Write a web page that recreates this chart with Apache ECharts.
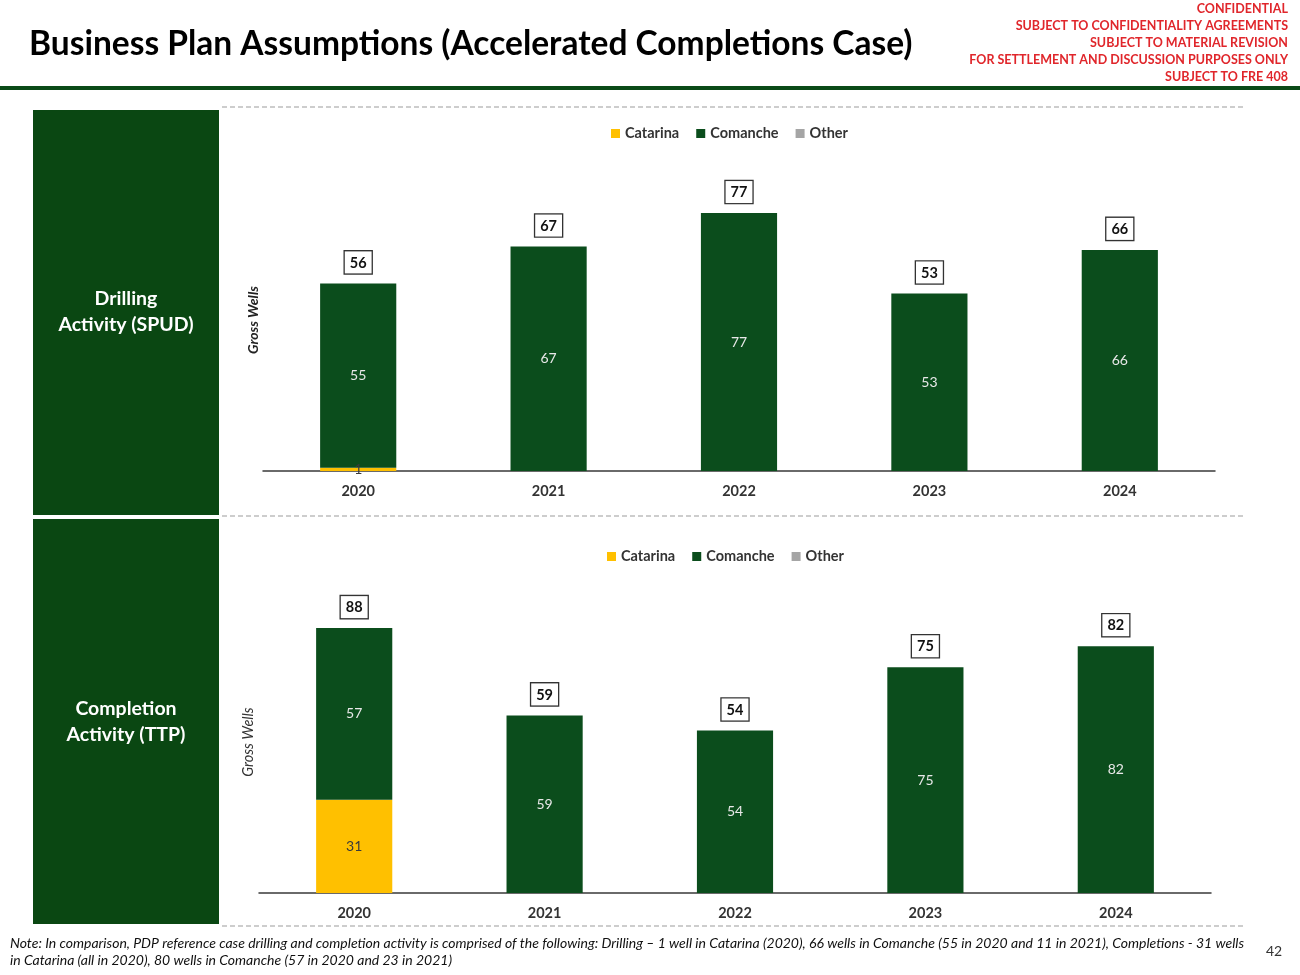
<!DOCTYPE html>
<html>
<head>
<meta charset="utf-8">
<script src="https://cdn.jsdelivr.net/npm/echarts@6/dist/echarts.min.js"></script>
<style>
html,body{margin:0;padding:0;background:#fff;}
#main{width:1300px;height:975px;}
</style>
</head>
<body>
<div id="main"></div>
<script>
// ---- data ----
var years = ['2020', '2021', '2022', '2023', '2024'];
var seriesNames = ['Catarina', 'Comanche', 'Other'];
var spudCatarina = [1, 0, 0, 0, 0];
var spudComanche = [55, 67, 77, 53, 66];
var spudOther = [0, 0, 0, 0, 0];
var ttpCatarina = [31, 0, 0, 0, 0];
var ttpComanche = [57, 59, 54, 75, 82];
var ttpOther = [0, 0, 0, 0, 0];

var title = 'Business Plan Assumptions (Accelerated Completions Case)';
var confidentialLines = ['CONFIDENTIAL', 'SUBJECT TO CONFIDENTIALITY AGREEMENTS', 'SUBJECT TO MATERIAL REVISION', 'FOR SETTLEMENT AND DISCUSSION PURPOSES ONLY', 'SUBJECT TO FRE 408'];
var panelLabels = ['Drilling\nActivity (SPUD)', 'Completion\nActivity (TTP)'];
var noteLines = ['Note: In comparison, PDP reference case drilling and completion activity is comprised of the following: Drilling \u2013 1 well in Catarina (2020), 66 wells in Comanche (55 in 2020 and 11 in 2021), Completions - 31 wells', 'in Catarina (all in 2020), 80 wells in Comanche (57 in 2020 and 23 in 2021)'];
var pageNumber = '42';

function sumArrays(a, b, c) { return a.map(function (v, i) { return v + b[i] + c[i]; }); }
var spudTotal = sumArrays(spudCatarina, spudComanche, spudOther);
var ttpTotal = sumArrays(ttpCatarina, ttpComanche, ttpOther);

var FONT = 'Lato';
var GREEN = '#0b4d1c';
var PANEL = '#0a4712';
var YELLOW = '#ffc000';
var GRAY = '#a5a5a5';

function hideZero(p) { return p.value ? String(p.value) : ''; }

function makeSeries(idx, cat, com, oth, tot) {
  return [
    { name: 'Catarina', type: 'bar', stack: 's' + idx, xAxisIndex: idx, yAxisIndex: idx, data: cat, barWidth: '40%', barGap: '-100%',
      itemStyle: { color: YELLOW },
      label: { show: true, position: 'inside', formatter: hideZero, color: '#3a3a3a', fontFamily: FONT, fontSize: 14 } },
    { name: 'Comanche', type: 'bar', stack: 's' + idx, xAxisIndex: idx, yAxisIndex: idx, data: com, barWidth: '40%', barGap: '-100%',
      itemStyle: { color: GREEN },
      label: { show: true, position: 'inside', formatter: hideZero, color: '#e8e8e8', fontFamily: FONT, fontSize: 14 } },
    { name: 'Other', type: 'bar', stack: 's' + idx, xAxisIndex: idx, yAxisIndex: idx, data: oth, barWidth: '40%', barGap: '-100%',
      itemStyle: { color: GRAY }, label: { show: false } },
    { name: 'Total', type: 'bar', xAxisIndex: idx, yAxisIndex: idx, data: tot, barWidth: '40%', barGap: '-100%', z: 1,
      itemStyle: { color: 'rgba(0,0,0,0)' }, silent: true,
      label: { show: true, position: 'top', distance: 10, color: '#111', fontFamily: FONT, fontWeight: 'bold', fontSize: 14.5,
        backgroundColor: '#fff', borderColor: '#333', borderWidth: 1.3, padding: [4, 5, 3, 5] } }
  ];
}

var chart = echarts.init(document.getElementById('main'), null, { renderer: 'canvas' });

var graphics = [];
// title
graphics.push({ type: 'text', left: 29, top: 27, style: { text: title, font: 'bold 33.5px ' + FONT, fill: '#000' } });
// confidential
confidentialLines.forEach(function (t, i) {
  graphics.push({ type: 'text', right: 12, top: 2 + i * 17.2, style: { text: t, font: 'bold 12.5px ' + FONT, fill: '#e0262b', textAlign: 'right' } });
});
// header line
graphics.push({ type: 'rect', shape: { x: 0, y: 86, width: 1300, height: 4 }, style: { fill: '#0a4a18' } });
// panels
graphics.push({ type: 'rect', shape: { x: 33, y: 110, width: 186, height: 405 }, style: { fill: PANEL } });
graphics.push({ type: 'rect', shape: { x: 33, y: 519, width: 186, height: 405 }, style: { fill: PANEL } });
graphics.push({ type: 'text', x: 126, y: 312, style: { text: panelLabels[0], font: 'bold 19.5px ' + FONT, fill: '#fff', textAlign: 'center', textVerticalAlign: 'middle', lineHeight: 26 } });
graphics.push({ type: 'text', x: 126, y: 722, style: { text: panelLabels[1], font: 'bold 19.5px ' + FONT, fill: '#fff', textAlign: 'center', textVerticalAlign: 'middle', lineHeight: 26 } });
// dashed separators
[107, 516, 926].forEach(function (y) {
  graphics.push({ type: 'line', shape: { x1: 222, y1: y, x2: 1245, y2: y }, style: { stroke: '#bdbdbd', lineWidth: 1.5, lineDash: [5, 3] } });
});
// y axis names
graphics.push({ type: 'text', x: 253, y: 320, rotation: Math.PI / 2, style: { text: 'Gross Wells', font: 'italic bold 14px ' + FONT, fill: '#222', textAlign: 'center', textVerticalAlign: 'middle' } });
graphics.push({ type: 'text', x: 248, y: 742, rotation: Math.PI / 2, style: { text: 'Gross Wells', font: 'italic 14.5px ' + FONT, fill: '#333', textAlign: 'center', textVerticalAlign: 'middle' } });
// note
noteLines.forEach(function (t, i) {
  graphics.push({ type: 'text', left: 10, top: 936 + i * 17, style: { text: t, font: 'italic 14px ' + FONT, fill: '#111' } });
});
graphics.push({ type: 'text', left: 1266, top: 944, style: { text: pageNumber, font: '14px ' + FONT, fill: '#333' } });

var legendCommon = { data: seriesNames, icon: 'rect', itemWidth: 9, itemHeight: 9, itemGap: 17,
  textStyle: { fontFamily: FONT, fontWeight: 'bold', fontSize: 14.5, color: '#333' } };

var xAxisCommon = { type: 'category', data: years,
  axisLine: { lineStyle: { color: '#3a3a3a', width: 1.5 } }, axisTick: { show: false },
  axisLabel: { fontFamily: FONT, fontWeight: 'bold', fontSize: 14.5, color: '#333', margin: 13 } };
var yAxisCommon = { type: 'value', min: 0, max: 100, show: false, splitLine: { show: false } };

var option = {
  animation: false,
  backgroundColor: '#fff',
  legend: [
    Object.assign({ left: 606, top: 121 }, legendCommon),
    Object.assign({ left: 602, top: 544 }, legendCommon)
  ],
  grid: [
    { left: 263, right: 85, top: 136, height: 335 },
    { left: 259, right: 89, top: 592, height: 301 }
  ],
  xAxis: [
    Object.assign({ gridIndex: 0 }, xAxisCommon),
    Object.assign({ gridIndex: 1 }, xAxisCommon)
  ],
  yAxis: [
    Object.assign({ gridIndex: 0 }, yAxisCommon),
    Object.assign({ gridIndex: 1 }, yAxisCommon)
  ],
  series: makeSeries(0, spudCatarina, spudComanche, spudOther, spudTotal)
    .concat(makeSeries(1, ttpCatarina, ttpComanche, ttpOther, ttpTotal)),
  graphic: graphics
};
chart.setOption(option);
</script>
</body>
</html>
